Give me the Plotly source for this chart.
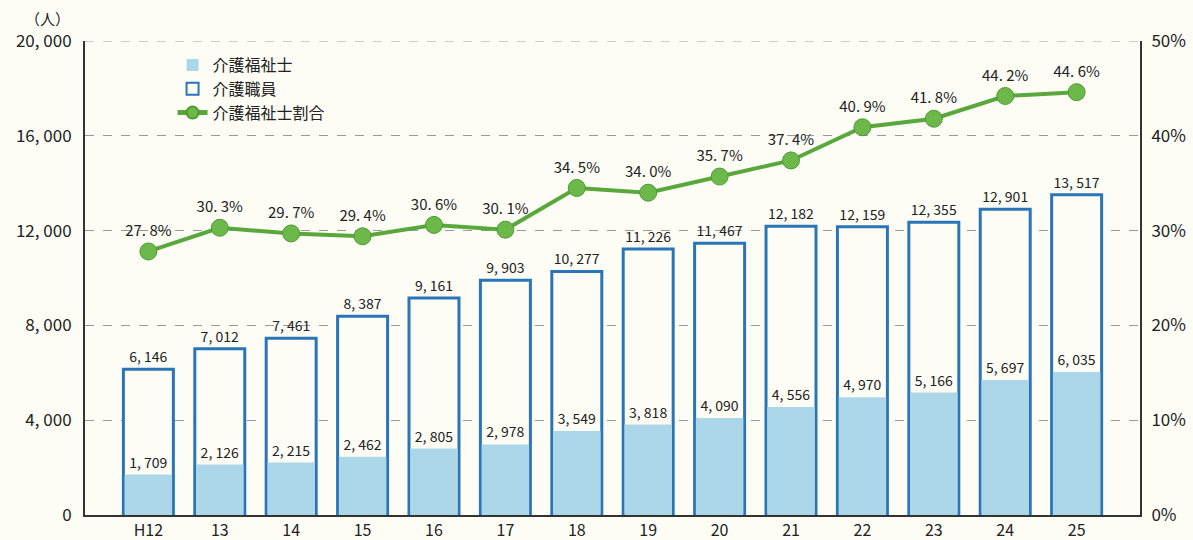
import plotly.graph_objects as go
from plotly.subplots import make_subplots

years = ["H12", "13", "14", "15", "16", "17", "18", "19", "20", "21", "22", "23", "24", "25"]
staff_total = [6146, 7012, 7461, 8387, 9161, 9903, 10277, 11226, 11467, 12182, 12159, 12355, 12901, 13517]
care_workers = [1709, 2126, 2215, 2462, 2805, 2978, 3549, 3818, 4090, 4556, 4970, 5166, 5697, 6035]
ratio_pct = [27.8, 30.3, 29.7, 29.4, 30.6, 30.1, 34.5, 34.0, 35.7, 37.4, 40.9, 41.8, 44.2, 44.6]

left_ticks = [0, 4000, 8000, 12000, 16000, 20000]
right_ticks = [0, 10, 20, 30, 40, 50]

FONT = "Noto Sans CJK JP"
BG = "#fdfdf6"


def jp_num(v):
    return f"{v:,}".replace(",", ", ")


fig = make_subplots(specs=[[{"secondary_y": True}]])

# outline bars (介護職員)
fig.add_trace(go.Bar(
    x=years, y=staff_total, name="介護職員",
    marker=dict(color=BG, line=dict(color="#2a74b8", width=3)),
    width=0.7,
    text=[jp_num(v) for v in staff_total],
    textposition="outside", cliponaxis=False,
    textfont=dict(size=14, color="#222", family=FONT),
    legendrank=2, hoverinfo="skip"
), secondary_y=False)

# filled bars (介護福祉士)
fig.add_trace(go.Bar(
    x=years, y=care_workers, name="介護福祉士",
    marker=dict(color="#acd7e9", line=dict(width=0)),
    width=0.665,
    text=[jp_num(v) for v in care_workers],
    textposition="outside", cliponaxis=False,
    textfont=dict(size=14, color="#222", family=FONT),
    legendrank=1, hoverinfo="skip"
), secondary_y=False)

# ratio line
fig.add_trace(go.Scatter(
    x=years, y=ratio_pct, name="介護福祉士割合",
    mode="lines+markers+text",
    line=dict(color="#5aa83c", width=4),
    marker=dict(color="#6cb94a", size=17, line=dict(color="#4f9a35", width=1)),
    text=[f"{v:.1f}%".replace(".", ". ") for v in ratio_pct],
    textposition="top center", cliponaxis=False,
    textfont=dict(size=15, color="#222", family=FONT),
    legendrank=3, hoverinfo="skip"
), secondary_y=True)

fig.update_xaxes(
    domain=[0, 1],
    showline=True, linecolor="#333", linewidth=2,
    tickfont=dict(size=16, color="#222", family=FONT),
    ticks="", showgrid=False, automargin=False,
)

fig.update_yaxes(
    range=[0, 20000], tickvals=left_ticks,
    ticktext=[jp_num(v) for v in left_ticks],
    tickfont=dict(size=17, color="#222", family=FONT),
    ticklabelstandoff=8,
    showline=True, linecolor="#333", linewidth=2,
    showgrid=True, gridcolor="#999", griddash="dash", gridwidth=1,
    zeroline=False, automargin=False, secondary_y=False,
)
fig.update_yaxes(
    range=[0, 50], tickvals=right_ticks,
    ticktext=[f"{v}%" for v in right_ticks],
    tickfont=dict(size=17, color="#222", family=FONT),
    ticklabelstandoff=6,
    showline=True, linecolor="#333", linewidth=2,
    showgrid=False, zeroline=False, automargin=False, secondary_y=True,
)

# top gridline (plotly skips the one on the plot edge)
fig.add_shape(type="line", xref="paper", yref="y", x0=0, x1=1,
              y0=left_ticks[-1], y1=left_ticks[-1],
              line=dict(color="#999", width=1, dash="dash"), layer="below")

fig.add_annotation(
    text="（人）", xref="paper", yref="paper", x=-0.036, y=1.0,
    yshift=23, yanchor="middle", showarrow=False, xanchor="center",
    font=dict(size=15, color="#222", family=FONT),
)

fig.update_layout(
    width=1193, height=540,
    barmode="overlay",
    paper_bgcolor=BG, plot_bgcolor=BG,
    margin=dict(l=85, r=53, t=41, b=25, autoexpand=False),
    font=dict(family=FONT),
    legend=dict(
        x=0.083, y=0.985, xanchor="left", yanchor="top",
        bgcolor="rgba(0,0,0,0)", font=dict(size=16, color="#222", family=FONT),
        tracegroupgap=0, itemsizing="constant",
    ),
)

fig.write_html(
    "out.html",
    config={"displayModeBar": False},
    post_script="document.body.style.margin='0';document.body.style.background='%s';" % BG,
)
